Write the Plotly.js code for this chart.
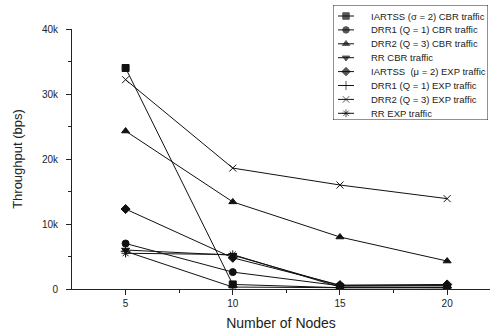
<!DOCTYPE html>
<html>
<head>
<meta charset="utf-8">
<script src="https://cdn.plot.ly/plotly-3.0.1.min.js"></script>
<style>
  html, body { margin: 0; padding: 0; background: #fff; }
  #chart { width: 494px; height: 333px; }
</style>
</head>
<body>
<div id="chart"></div>
<script>
// Throughput vs. number of nodes for CBR and exponential traffic
const nodes = [5, 10, 15, 20];

const iartssCbr = [34000, 700, 200, 200];
const drr1Cbr   = [7000, 2600, 500, 500];
const drr2Cbr   = [24300, 13400, 8000, 4300];
const rrCbr     = [6000, 5200, 500, 500];
const iartssExp = [12300, 4800, 600, 700];
const drr1Exp   = [5800, 300, 200, 200];
const drr2Exp   = [32200, 18600, 16000, 13900];
const rrExp     = [5500, 5300, 300, 200];

const seriesNames = [
  'IARTSS (\u03c3 = 2) CBR traffic',
  'DRR1 (Q = 1) CBR traffic',
  'DRR2 (Q = 3) CBR traffic',
  'RR CBR traffic',
  'IARTSS  (\u03bc = 2) EXP traffic',
  'DRR1 (Q = 1) EXP traffic',
  'DRR2 (Q = 3) EXP traffic',
  'RR EXP traffic'
];

const yTickVals = [0, 10000, 20000, 30000, 40000];
const yTickText = ['0', '10k', '20k', '30k', '40k'];
const xTickVals = [5, 10, 15, 20];

const seriesValues = [iartssCbr, drr1Cbr, drr2Cbr, rrCbr, iartssExp, drr1Exp, drr2Exp, rrExp];
const symbols = ['square', 'circle', 'triangle-up', 'triangle-down', 'diamond', 'cross-thin-open', 'x-thin-open', 'asterisk-open'];
const ink = '#111';

// main series
const traces = seriesValues.map((vals, i) => ({
  x: nodes,
  y: vals,
  name: seriesNames[i],
  type: 'scatter',
  mode: 'lines+markers',
  showlegend: false,
  line: { color: ink, width: 1 },
  marker: { symbol: symbols[i], size: 7, color: ink, line: { color: ink, width: 1 } }
}));

// compact legend box drawn on its own hidden axes (units are pixels inside the box)
const rowStep = 13.9, rowTop = 11;
const keyX = [5, 13, 21], textX = 36;
const annotations = [];
seriesNames.forEach((name, i) => {
  const ry = rowTop + rowStep * i;
  traces.push({
    x: keyX, y: [ry, ry, ry],
    xaxis: 'x2', yaxis: 'y2',
    type: 'scatter', mode: 'lines+markers', showlegend: false, hoverinfo: 'skip',
    line: { color: ink, width: 1 },
    marker: { symbol: symbols[i], size: [0, 6.5, 0], color: ink, line: { color: ink, width: 1 } }
  });
  annotations.push({
    xref: 'x2', yref: 'y2', x: textX, y: ry,
    text: name, showarrow: false, xanchor: 'left', yanchor: 'middle',
    font: { size: 9.5, color: '#222' }
  });
});

const layout = {
  width: 494,
  height: 333,
  margin: { l: 72, r: 4, t: 4, b: 44 },
  paper_bgcolor: '#fff',
  plot_bgcolor: 'rgba(0,0,0,0)',
  font: { family: 'Liberation Sans, Arial, sans-serif', color: '#222', size: 10 },
  showlegend: false,
  xaxis: {
    range: [2.5, 22],
    tickvals: xTickVals,
    ticks: 'outside', ticklen: 5, tickcolor: '#222',
    minor: { tickvals: [7.5, 12.5, 17.5], ticks: 'outside', ticklen: 3, tickcolor: '#222' },
    showgrid: false, zeroline: false,
    showline: true, linecolor: '#222', linewidth: 1,
    tickfont: { size: 10 },
    title: { text: 'Number of Nodes', font: { size: 14 }, standoff: 10 }
  },
  yaxis: {
    domain: [0, 260 / 285],
    range: [0, 40000],
    tickvals: yTickVals,
    ticktext: yTickText,
    ticks: 'outside', ticklen: 5, tickcolor: '#222',
    ticklabelstandoff: 6,
    minor: { tickvals: [5000, 15000, 25000, 35000], ticks: 'outside', ticklen: 3, tickcolor: '#222' },
    showgrid: false, zeroline: false,
    showline: true, linecolor: '#222', linewidth: 1,
    tickfont: { size: 10 },
    title: { text: 'Throughput (bps)', font: { size: 13 }, standoff: 16 }
  },
  xaxis2: {
    domain: [261 / 418, 416 / 418], range: [0, 155], anchor: 'y2',
    visible: false, fixedrange: true
  },
  yaxis2: {
    domain: [169 / 285, 284 / 285], range: [115, 0], anchor: 'x2',
    visible: false, fixedrange: true
  },
  shapes: [{
    type: 'rect', xref: 'x2', yref: 'y2', x0: 0, x1: 155, y0: 0, y1: 115,
    line: { color: '#222', width: 1 }, fillcolor: '#fff', layer: 'below'
  }],
  annotations: annotations
};

Plotly.newPlot('chart', traces, layout, { staticPlot: true, displayModeBar: false });
</script>
</body>
</html>
